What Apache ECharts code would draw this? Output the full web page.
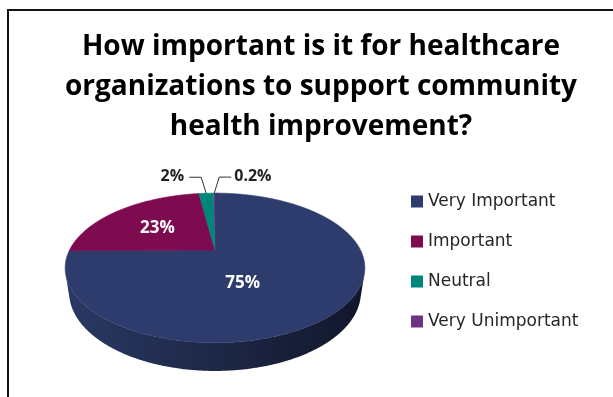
<!DOCTYPE html>
<html><head><meta charset="utf-8">
<script src="https://cdn.jsdelivr.net/npm/echarts@6/dist/echarts.min.js"></script>
<style>
html,body{margin:0;padding:0;background:#fff;overflow:hidden;}
#c{position:absolute;left:0;top:0;width:613px;height:397px;}
#frame{position:absolute;left:7px;top:9px;width:640px;height:420px;border-top:2px solid #111;border-left:2px solid #111;pointer-events:none;}
</style></head><body><div id="c"></div><div id="frame"></div>
<script>
// ---- data ----
const titleLines = ['How important is it for healthcare', 'organizations to support community', 'health improvement?'];
const categories = ['Very Important', 'Important', 'Neutral', 'Very Unimportant'];
const values = [75, 23, 2, 0.2];
const valueLabels = ['75%', '23%', '2%', '0.2%'];

// ---- styles / layout ----
const topColors = ['#2D3C6C', '#7E0A4F', '#00857A', '#6E3382'];
const sideLight = ['#2A3964', '#5e0a3c', '#006a60', '#552866'];
const sideDark = ['#11162A', '#35061f', '#003530', '#2a1433'];
const labelMode = ['in', 'in', -1, 1]; // inside, or outside with leader (direction)
const labelNudge = [[15, 6], [6, 1], [0, 0], [0, 0]];
const P = { cx: 215, cy: 250, F: 531, D: 3.65, s: 0.4848, c: 0.8746, h: 0.193 };

function proj(x, y, z) {
  const dep = P.D - P.s * y - P.c * z;
  return [P.cx + P.F * x / dep, P.cy + P.F * (P.s * z - P.c * y) / dep];
}
function rim(t, y) { return proj(Math.sin(t), y, -Math.cos(t)); }
function arc(a, b, y) {
  const n = Math.max(2, Math.ceil(Math.abs(b - a) / (Math.PI / 360)));
  const pts = [];
  for (let k = 0; k <= n; k++) pts.push(rim(a + (b - a) * k / n, y));
  return pts;
}
function centroid(pts) {
  let A = 0, X = 0, Y = 0;
  for (let i = 0; i < pts.length; i++) {
    const p = pts[i], q = pts[(i + 1) % pts.length];
    const cr = p[0] * q[1] - q[0] * p[1];
    A += cr; X += (p[0] + q[0]) * cr; Y += (p[1] + q[1]) * cr;
  }
  return [X / (3 * A), Y / (3 * A)];
}

function makeRender(i) {
  return function (params, api) {
    const total = values.reduce((a, b) => a + b, 0);
    let start = 0;
    for (let k = 0; k < i; k++) start += values[k];
    const v = api.value(0);
    const t0 = start / total * 2 * Math.PI, t1 = (start + v) / total * 2 * Math.PI;
    const children = [];
    const ta = Math.acos(-1 / (P.D * P.c)), tb = 2 * Math.PI - ta;
    const v0 = Math.max(t0, ta), v1 = Math.min(t1, tb);
    if (v1 > v0) {
      const pts = arc(v0, v1, 0).concat(arc(v1, v0, -P.h));
      children.push({
        type: 'polygon', z2: 1, shape: { points: pts },
        style: {
          fill: new echarts.graphic.LinearGradient(0, 0, 1, 0, [
            { offset: 0, color: sideLight[i] }, { offset: 1, color: sideDark[i] }]),
          stroke: null
        }
      });
    }
    const topPts = [proj(0, 0, 0)].concat(arc(t0, t1, 0));
    children.push({
      type: 'polygon', z2: 5, shape: { points: topPts },
      style: { fill: topColors[i], stroke: topColors[i], lineWidth: v < 1 ? 0 : 0.6 }
    });
    const mode = labelMode[i];
    if (mode === 'in') {
      const c = centroid(topPts);
      children.push({
        type: 'text', z2: 10,
        style: {
          text: valueLabels[i], x: c[0] + labelNudge[i][0], y: c[1] + labelNudge[i][1], fill: '#ffffff',
          fontSize: 17, fontWeight: 'bold', fontFamily: 'Open Sans',
          align: 'center', verticalAlign: 'middle'
        }
      });
    } else {
      const tm = (t0 + t1) / 2;
      const r = rim(tm, 0);
      const e = [r[0] + mode * 5, r[1] - 16];
      const f = [e[0] + mode * 12, e[1]];
      children.push({
        type: 'polyline', z2: 10, shape: { points: [r, e, f] },
        style: { stroke: '#333', lineWidth: 1, fill: null }
      });
      children.push({
        type: 'text', z2: 10,
        style: {
          text: valueLabels[i], x: f[0] + mode * (mode < 0 ? 5 : 3), y: f[1] - 1, fill: '#222',
          fontSize: 16, fontWeight: 'bold', fontFamily: 'Open Sans',
          align: mode < 0 ? 'right' : 'left', verticalAlign: 'middle'
        }
      });
    }
    return { type: 'group', children: children };
  };
}

const chart = echarts.init(document.getElementById('c'), null, { renderer: 'canvas' });
chart.setOption({
  animation: false,
  title: {
    text: titleLines.join('\n'),
    left: 321, textAlign: 'center', top: 27, padding: 0,
    textStyle: { fontSize: 28, fontWeight: 'bold', fontFamily: 'Open Sans', color: '#000', lineHeight: 40 }
  },
  legend: {
    orient: 'vertical', left: 411, top: 193, padding: 0,
    itemWidth: 12, itemHeight: 12, itemGap: 23, icon: 'rect',
    selectedMode: false,
    data: categories,
    textStyle: { fontSize: 17, fontFamily: 'DejaVu Sans', color: '#262626', lineHeight: 16 }
  },
  series: categories.map((name, i) => ({
    type: 'custom', name: name, coordinateSystem: 'none', silent: true,
    itemStyle: { color: topColors[i] },
    data: [[values[i]]],
    renderItem: makeRender(i)
  }))
});
</script></body></html>
